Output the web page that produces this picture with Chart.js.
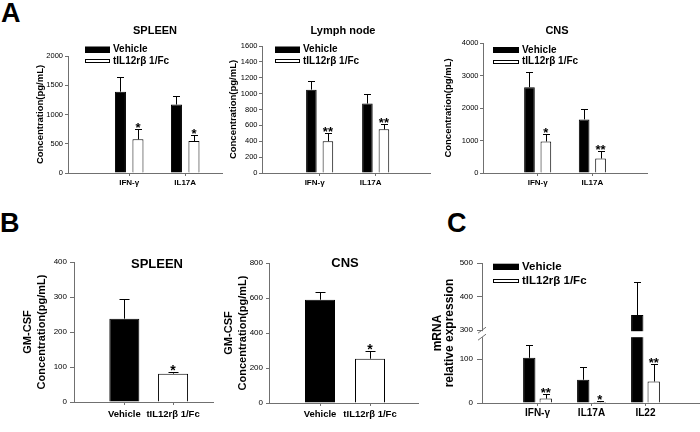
<!DOCTYPE html>
<html>
<head>
<meta charset="utf-8">
<script src="https://cdn.jsdelivr.net/npm/chart.js@4.4.0/dist/chart.umd.min.js"></script>
<style>
  body { margin: 0; background: #fff; width: 700px; height: 432px; position: relative; overflow: hidden;
         font-family: "Liberation Sans", Arial, Helvetica, sans-serif; }
  canvas { position: absolute; }
  .letter { position: absolute; font-weight: bold; font-size: 27px; line-height: 27px; color: #000; }
</style>
</head>
<body>
<div class="letter" style="left:1px;top:0px">A</div>
<div class="letter" style="left:0px;top:210px">B</div>
<div class="letter" style="left:447px;top:210px">C</div>
<canvas id="a1"></canvas>
<canvas id="a2"></canvas>
<canvas id="a3"></canvas>
<canvas id="b1"></canvas>
<canvas id="b2"></canvas>
<canvas id="c1"></canvas>
<script>
  // ---- data ----
  const legendLabels = ['Vehicle', 'tIL12rβ 1/Fc'];

  // A: cytokine concentration
  const aCats = ['IFN-γ', 'IL17A'];
  const spleenVeh = [1390, 1170];
  const spleenVehErr = [255, 150];
  const spleenTx = [575, 545];
  const spleenTxErr = [170, 105];
  const spleenStars = ['*', '*'];
  const spleenTicks = [0, 500, 1000, 1500, 2000];

  const lymphVeh = [1050, 875];
  const lymphVehErr = [115, 125];
  const lymphTx = [400, 550];
  const lymphTxErr = [105, 70];
  const lymphStars = ['**', '**'];
  const lymphTicks = [0, 200, 400, 600, 800, 1000, 1200, 1400, 1600];

  const cnsVeh = [2640, 1650];
  const cnsVehErr = [480, 330];
  const cnsTx = [970, 445];
  const cnsTxErr = [230, 235];
  const cnsStars = ['*', '**'];
  const cnsTicks = [0, 1000, 2000, 3000, 4000];

  // B: GM-CSF
  const gmCats = ['Vehicle', 'tIL12rβ 1/Fc'];
  const gmSpleen = [238, 81];
  const gmSpleenErr = [56, 5];
  const gmSpleenStars = ['', '*'];
  const gmSpleenTicks = [0, 100, 200, 300, 400];
  const gmCns = [590, 253];
  const gmCnsErr = [44, 46];
  const gmCnsStars = ['', '*'];
  const gmCnsTicks = [0, 200, 400, 600, 800];

  // C: mRNA relative expression (broken axis)
  const cCats = ['IFN-γ', 'IL17A', 'IL22'];
  const mrnaVeh = [103, 53, 345];
  const mrnaVehErr = [30, 30, 97];
  const mrnaTx = [10, 2, 49];
  const mrnaTxErr = [10, 1.5, 39];
  const mrnaStars = ['**', '*', '**'];
  const mrnaTicks = [0, 100, 300, 400, 500];

  // ---- setup ----
  const font = '"Liberation Sans", Arial, Helvetica, sans-serif';
  const axisColor = '#707070';
  Chart.defaults.font.family = font;
  Chart.defaults.color = '#000';
  Chart.defaults.animation = false;
  Chart.defaults.plugins.legend.display = false;
  Chart.defaults.plugins.tooltip.enabled = false;

  // linear scale with a gap between lo and hi
  const AXIS_BREAK = {lo: 150, hi: 300, lowFrac: 0.47, upFrac: 0.48};
  class BrokenScale extends Chart.LinearScale {
    getPixelForValue(v) {
      const k = AXIS_BREAK, h = this.bottom - this.top;
      const lowH = h * k.lowFrac, upH = h * k.upFrac;
      if (v <= k.lo) return this.bottom - (v - this.min) / (k.lo - this.min) * lowH;
      if (v >= k.hi) return this.top + (this.max - v) / (this.max - k.hi) * upH;
      const g0 = this.bottom - lowH, g1 = this.top + upH;
      return g0 - (v - k.lo) / (k.hi - k.lo) * (g0 - g1);
    }
    getValueForPixel(px) {
      const k = AXIS_BREAK, h = this.bottom - this.top;
      const lowH = h * k.lowFrac, upH = h * k.upFrac;
      if (px >= this.bottom - lowH) return this.min + (this.bottom - px) / lowH * (k.lo - this.min);
      return this.max - (px - this.top) / upH * (this.max - k.hi);
    }
  }
  BrokenScale.id = 'broken';
  BrokenScale.defaults = Chart.LinearScale.defaults;
  Chart.register(BrokenScale);

  function decorations(p) {
    return {
      id: 'decor',
      afterDraw(chart) {
        const ctx = chart.ctx, ys = chart.scales.y, ca = chart.chartArea, b = p.box;
        ctx.save();
        if (p.yType === 'broken') {
          const y1 = ys.getPixelForValue(AXIS_BREAK.hi), y0 = ys.getPixelForValue(AXIS_BREAK.lo);
          ctx.fillStyle = '#fff';
          ctx.fillRect(ca.left - 2, y1 + 1, ca.right - ca.left + 2, y0 - y1 - 1);
          ctx.strokeStyle = axisColor; ctx.lineWidth = 1;
          ctx.beginPath();
          ctx.moveTo(ca.left - 4, y1 + 3); ctx.lineTo(ca.left + 4, y1 - 3);
          ctx.moveTo(ca.left - 4, y0 + 3); ctx.lineTo(ca.left + 4, y0 - 3);
          ctx.stroke();
        }
        // error bars and significance marks
        chart.data.datasets.forEach((ds, di) => {
          chart.getDatasetMeta(di).data.forEach((bar, i) => {
            const top = ys.getPixelForValue(ds.data[i].y + ds.errors[i]);
            const x = Math.round(bar.x) + 0.5, yt = Math.round(top) + 0.5;
            ctx.strokeStyle = '#000'; ctx.lineWidth = 1;
            ctx.beginPath();
            ctx.moveTo(x, bar.y); ctx.lineTo(x, yt);
            ctx.moveTo(x - p.cap, yt); ctx.lineTo(x + p.cap, yt);
            ctx.stroke();
            const s = ds.stars && ds.stars[i];
            if (s) {
              ctx.fillStyle = '#000';
              ctx.font = 'bold ' + p.starSize + 'px ' + font;
              ctx.textAlign = 'center'; ctx.textBaseline = 'alphabetic';
              ctx.fillText(s, bar.x, top + p.starOff);
            }
          });
        });
        // panel title
        if (p.title) {
          ctx.fillStyle = '#000';
          ctx.font = 'bold ' + p.title.size + 'px ' + font;
          ctx.textAlign = 'center'; ctx.textBaseline = 'middle';
          ctx.fillText(p.title.text, p.title.x - b.x, p.title.y - b.y);
        }
        // legend
        if (p.legend) {
          const lg = p.legend;
          chart.data.datasets.forEach((ds, di) => {
            const x = lg.x - b.x, y = lg.rows[di] - b.y, h = di === 0 ? 6 : 4;
            ctx.fillStyle = ds.backgroundColor;
            ctx.fillRect(x, y - h / 2, lg.w, h);
            ctx.strokeStyle = '#000'; ctx.lineWidth = 1;
            ctx.strokeRect(Math.round(x) + 0.5, Math.round(y - h / 2) + 0.5, lg.w - 1, h - 1);
            ctx.fillStyle = '#000';
            ctx.font = 'bold ' + lg.size + 'px ' + font;
            ctx.textAlign = 'left'; ctx.textBaseline = 'middle';
            ctx.fillText(ds.label, x + lg.w + 3, y);
          });
        }
        ctx.restore();
      }
    };
  }

  function makePanel(id, p) {
    const cv = document.getElementById(id);
    const b = p.box, a = p.area;
    cv.width = b.w; cv.height = b.h;
    cv.style.left = b.x + 'px'; cv.style.top = b.y + 'px';
    const yTitlePad = p.yTitle.x - b.x - p.yTitle.size * p.yTitle.lh / 2;
    const xy = vals => vals.map((v, i) => ({x: i + 1, y: v}));
    const datasets = p.series.map(s => ({
      label: s.label, data: xy(s.values), errors: s.errors, stars: s.stars,
      backgroundColor: s.color, borderColor: '#000', borderWidth: 1,
      categoryPercentage: p.cp, barPercentage: p.bp
    }));
    return new Chart(cv, {
      type: 'bar',
      data: {datasets},
      options: {
        responsive: false,
        layout: {padding: {left: 0, top: a.t - b.y, right: b.x + b.w - a.r, bottom: 0}},
        scales: {
          x: {
            type: 'linear', offset: false, min: p.xMin, max: p.xMax,
            afterBuildTicks: s => { s.ticks = p.cats.map((c, i) => ({value: i + 1})); },
            afterFit: s => { s.height = b.y + b.h - a.b; },
            ticks: {
              callback: v => p.cats[v - 1], autoSkip: false, maxRotation: 0, minRotation: 0,
              padding: p.catPad, labelOffset: p.labelOffset || 0, color: '#000',
              font: {size: p.catSize, weight: 'bold'}
            },
            grid: {drawOnChartArea: false, drawTicks: true, tickLength: 3, color: axisColor, offset: false},
            border: {display: true, color: axisColor, width: 1}
          },
          y: {
            type: p.yType || 'linear', min: 0, max: p.ticks[p.ticks.length - 1],
            afterBuildTicks: s => { s.ticks = p.ticks.map(v => ({value: v})); },
            afterFit: s => { s.width = a.l - b.x; },
            ticks: {
              callback: v => String(v), autoSkip: false,
              padding: p.tickPad, color: '#000', font: {size: p.tickSize}
            },
            grid: {drawOnChartArea: false, drawTicks: true, tickLength: p.tickLen, color: axisColor},
            border: {display: true, color: axisColor, width: 1},
            title: {
              display: true, text: p.yTitle.text, color: '#000',
              font: {size: p.yTitle.size, weight: 'bold', lineHeight: p.yTitle.lh},
              padding: {top: yTitlePad, bottom: 0}
            }
          }
        }
      },
      plugins: [decorations(p)]
    });
  }

  const twoSeries = (veh, vehErr, tx, txErr, stars) => [
    {label: legendLabels[0], values: veh, errors: vehErr, color: '#000'},
    {label: legendLabels[1], values: tx, errors: txErr, stars: stars, color: '#fff'}
  ];

  makePanel('a1', {
    box: {x: 0, y: 0, w: 228, h: 200}, area: {l: 68, t: 56, r: 222, b: 173},
    cats: aCats, xMin: -0.093, xMax: 2.657, cp: 0.625, bp: 0.63,
    series: twoSeries(spleenVeh, spleenVehErr, spleenTx, spleenTxErr, spleenStars),
    ticks: spleenTicks, tickSize: 7.5, tickLen: 3, tickPad: 2, catSize: 8, catPad: 2,
    yTitle: {text: 'Concentration(pg/mL)', size: 9.5, lh: 1.2, x: 40},
    title: {text: 'SPLEEN', x: 155, y: 31, size: 11},
    legend: {x: 85, w: 25, rows: [49.5, 61.3], size: 10},
    cap: 3.5, starSize: 13, starOff: 3
  });

  makePanel('a2', {
    box: {x: 226, y: 0, w: 210, h: 200}, area: {l: 262, t: 46, r: 430, b: 173},
    cats: aCats, xMin: -0.029, xMax: 2.97, cp: 0.59, bp: 0.64, labelOffset: -5,
    series: twoSeries(lymphVeh, lymphVehErr, lymphTx, lymphTxErr, lymphStars),
    ticks: lymphTicks, tickSize: 7.5, tickLen: 3, tickPad: 1.5, catSize: 8, catPad: 2,
    yTitle: {text: 'Concentration(pg/mL)', size: 9.5, lh: 1.2, x: 233},
    title: {text: 'Lymph node', x: 343, y: 31, size: 11},
    legend: {x: 275, w: 25, rows: [49.5, 61.3], size: 10},
    cap: 3.5, starSize: 13, starOff: 3
  });

  makePanel('a3', {
    box: {x: 436, y: 0, w: 220, h: 200}, area: {l: 483, t: 43, r: 647, b: 173},
    cats: aCats, xMin: 0, xMax: 3, cp: 0.6, bp: 0.65,
    series: twoSeries(cnsVeh, cnsVehErr, cnsTx, cnsTxErr, cnsStars),
    ticks: cnsTicks, tickSize: 7.5, tickLen: 3, tickPad: 1.5, catSize: 8, catPad: 2,
    yTitle: {text: 'Concentration(pg/mL)', size: 9.5, lh: 1.2, x: 448},
    title: {text: 'CNS', x: 557, y: 31, size: 11},
    legend: {x: 493, w: 26, rows: [50, 61.7], size: 10},
    cap: 3.5, starSize: 13, starOff: 3
  });

  makePanel('b1', {
    box: {x: 0, y: 210, w: 220, h: 222}, area: {l: 74, t: 262, r: 213, b: 402},
    cats: gmCats, xMin: -0.033, xMax: 2.82, cp: 1, bp: 0.616,
    series: [{label: 'GM-CSF', values: gmSpleen, errors: gmSpleenErr, stars: gmSpleenStars, color: ['#000', '#fff']}],
    ticks: gmSpleenTicks, tickSize: 8, tickLen: 4, tickPad: 3, catSize: 9.5, catPad: 3.3,
    yTitle: {text: ['GM-CSF', 'Concentration(pg/mL)'], size: 11, lh: 1.25, x: 28},
    title: {text: 'SPLEEN', x: 157, y: 264, size: 13},
    cap: 5, starSize: 14, starOff: 3
  });

  makePanel('b2', {
    box: {x: 205, y: 210, w: 220, h: 222}, area: {l: 269, t: 263, r: 418, b: 403},
    cats: gmCats, xMin: -0.02, xMax: 2.96, cp: 1, bp: 0.6,
    series: [{label: 'GM-CSF', values: gmCns, errors: gmCnsErr, stars: gmCnsStars, color: ['#000', '#fff']}],
    ticks: gmCnsTicks, tickSize: 8, tickLen: 3, tickPad: 3, catSize: 9.5, catPad: 3,
    yTitle: {text: ['GM-CSF', 'Concentration(pg/mL)'], size: 11, lh: 1.25, x: 229},
    title: {text: 'CNS', x: 345, y: 263, size: 13},
    cap: 5, starSize: 14, starOff: 3
  });

  makePanel('c1', {
    box: {x: 425, y: 210, w: 275, h: 222}, area: {l: 482, t: 263, r: 700, b: 403},
    cats: cCats, xMin: -0.028, xMax: 4.01, cp: 0.61, bp: 0.75, yType: 'broken',
    series: twoSeries(mrnaVeh, mrnaVehErr, mrnaTx, mrnaTxErr, mrnaStars),
    ticks: mrnaTicks, tickSize: 8, tickLen: 5, tickPad: 4, catSize: 10, catPad: 1,
    yTitle: {text: ['mRNA', 'relative expression'], size: 12, lh: 0.95, x: 438},
    legend: {x: 493, w: 26, rows: [266.7, 281], size: 11.5},
    cap: 3.5, starSize: 13, starOff: 3
  });
</script>
</body>
</html>
